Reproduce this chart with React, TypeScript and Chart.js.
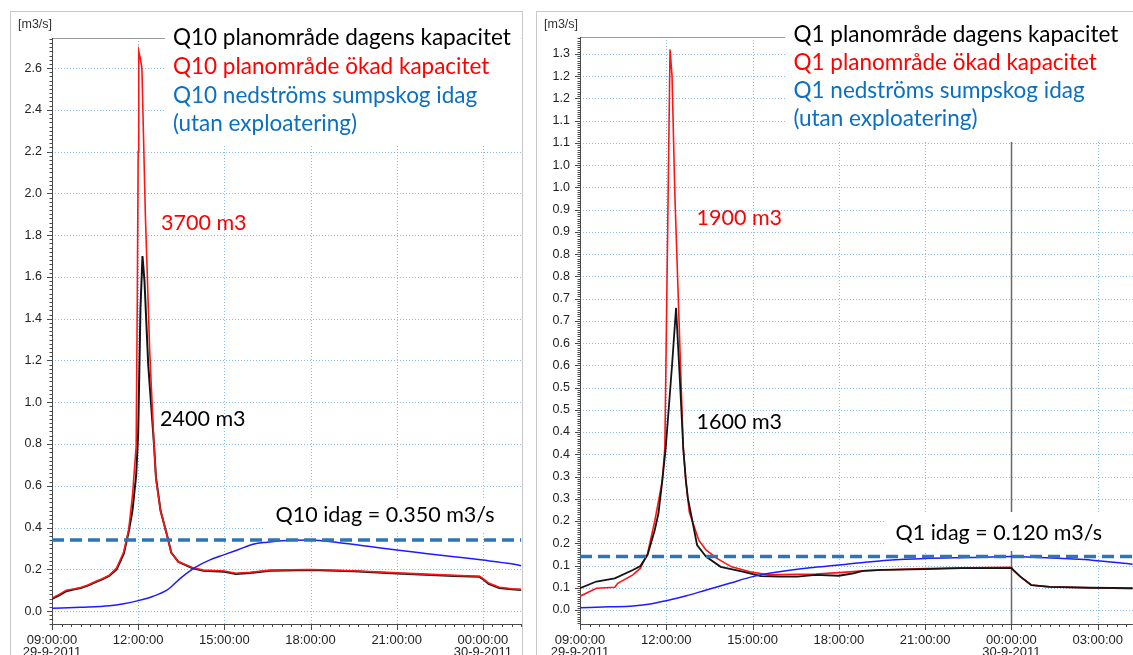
import React, { useEffect, useRef } from "react";
import { Chart, registerables } from "chart.js";

Chart.register(...registerables);

// ---------- Q10 (left panel) ----------
const q10DagensHours = [9.0, 9.25, 9.5, 9.75, 10.0, 10.25, 10.5, 10.75, 11.0, 11.25, 11.5, 11.67, 11.8, 11.93, 12.0, 12.08, 12.15, 12.22, 12.35, 12.55, 12.62, 12.78, 13.03, 13.15, 13.4, 13.9, 14.27, 15.0, 15.4, 15.9, 16.6, 18.0, 19.5, 21.0, 22.0, 23.0, 23.88, 24.05, 24.2, 24.57, 25.0, 25.34];
const q10DagensFlow = [0.058, 0.075, 0.095, 0.103, 0.11, 0.122, 0.138, 0.152, 0.17, 0.2, 0.275, 0.38, 0.48, 0.65, 0.85, 1.45, 1.7, 1.58, 1.18, 0.8, 0.64, 0.48, 0.35, 0.28, 0.235, 0.205, 0.193, 0.188, 0.177, 0.182, 0.193, 0.196, 0.19, 0.18, 0.174, 0.168, 0.164, 0.148, 0.13, 0.11, 0.104, 0.101];

const q10OkadHours = [9.0, 9.25, 9.5, 9.75, 10.0, 10.25, 10.5, 10.75, 11.0, 11.25, 11.5, 11.67, 11.8, 11.93, 11.97, 12.0, 12.02, 12.07, 12.13, 12.25, 12.4, 12.55, 12.62, 12.78, 13.03, 13.15, 13.4, 13.9, 14.27, 15.0, 15.4, 15.9, 16.6, 18.0, 19.5, 21.0, 22.0, 23.0, 23.88, 24.05, 24.2, 24.57, 25.0, 25.34];
const q10OkadFlow = [0.062, 0.08, 0.1, 0.106, 0.113, 0.125, 0.14, 0.155, 0.172, 0.206, 0.284, 0.39, 0.55, 0.79, 1.5, 2.2, 2.68, 2.65, 2.6, 1.9, 1.25, 0.8, 0.63, 0.48, 0.35, 0.28, 0.236, 0.207, 0.196, 0.192, 0.181, 0.186, 0.196, 0.199, 0.193, 0.183, 0.177, 0.171, 0.167, 0.151, 0.134, 0.114, 0.107, 0.104];

const q10SumpskogHours = [9, 10, 11, 11.5, 12, 12.5, 13, 13.5, 14, 14.5, 15, 15.5, 16, 16.5, 17, 18, 19, 20, 21, 22, 23, 24, 25, 25.34];
const q10SumpskogFlow = [0.013, 0.018, 0.025, 0.035, 0.05, 0.07, 0.1, 0.16, 0.21, 0.245, 0.27, 0.295, 0.32, 0.33, 0.337, 0.34, 0.327, 0.31, 0.292, 0.276, 0.26, 0.244, 0.226, 0.217];

const q10Idag = 0.34;
const q10XRange = [9, 25.34];
const q10YRange = [-0.062, 2.744];
const q10XTicks = [9, 12, 15, 18, 21, 24];
const q10YTicks = [0, 0.2, 0.4, 0.6, 0.8, 1.0, 1.2, 1.4, 1.6, 1.8, 2.0, 2.2, 2.4, 2.6];

// ---------- Q1 (right panel) ----------
const q1DagensHours = [9.0, 9.57, 10.21, 10.84, 11.1, 11.35, 11.6, 11.73, 11.86, 11.98, 12.2, 12.34, 12.47, 12.59, 12.68, 12.75, 13.07, 13.38, 13.89, 14.66, 15.29, 15.93, 16.56, 17.2, 18.0, 18.47, 18.84, 19.5, 21.0, 22.28, 24.0, 24.06, 24.31, 24.69, 25.33, 26.73, 28.22];
const q1DagensFlow = [0.049, 0.064, 0.071, 0.09, 0.099, 0.124, 0.18, 0.218, 0.29, 0.364, 0.55, 0.679, 0.52, 0.364, 0.292, 0.252, 0.146, 0.12, 0.097, 0.086, 0.076, 0.075, 0.075, 0.079, 0.077, 0.082, 0.088, 0.09, 0.092, 0.094, 0.094, 0.09, 0.075, 0.056, 0.052, 0.05, 0.049];

const q1OkadHours = [9.0, 9.57, 10.21, 10.31, 10.84, 11.1, 11.35, 11.6, 11.86, 11.95, 12.13, 12.2, 12.3, 12.59, 12.68, 12.8, 13.13, 13.38, 13.76, 14.27, 14.91, 15.55, 16.5, 17.2, 18.0, 18.84, 19.5, 21.0, 22.3, 24.0, 24.06, 24.31, 24.69, 25.33, 26.73, 28.22];
const q1OkadFlow = [0.031, 0.049, 0.051, 0.06, 0.079, 0.094, 0.127, 0.2, 0.29, 0.364, 1.26, 1.2, 0.93, 0.364, 0.29, 0.22, 0.157, 0.135, 0.116, 0.097, 0.086, 0.079, 0.08, 0.081, 0.084, 0.088, 0.09, 0.093, 0.095, 0.096, 0.09, 0.075, 0.056, 0.052, 0.05, 0.048];

const q1SumpskogHours = [9, 10, 10.84, 11.5, 12, 12.7, 13.39, 14.2, 15, 15.93, 17, 18, 19, 19.7, 21, 22.5, 24, 25, 26, 26.8, 28.22];
const q1SumpskogFlow = [0.005, 0.007, 0.009, 0.014, 0.021, 0.032, 0.045, 0.06, 0.075, 0.086, 0.095, 0.101, 0.108, 0.112, 0.116, 0.118, 0.12, 0.118, 0.115, 0.112, 0.103];

const q1Idag = 0.12;
const q1XRange = [9, 28.22];
const q1YRange = [-0.0315, 1.288];
const q1XTicks = [9, 12, 15, 18, 21, 24, 27];
const q1YTicks = [0, 0.05, 0.1, 0.15, 0.2, 0.25, 0.3, 0.35, 0.4, 0.45, 0.5, 0.55, 0.6, 0.65, 0.7, 0.75, 0.8, 0.85, 0.9, 0.95, 1.0, 1.05, 1.1, 1.15, 1.2, 1.25];
const q1MarkerHour = 24;

// ---------- shared tick labels ----------
const xTickHours = [9, 12, 15, 18, 21, 24, 27];
const xTickTimes = ["09:00:00", "12:00:00", "15:00:00", "18:00:00", "21:00:00", "00:00:00", "03:00:00"];
const xTickDates = ["29-9-2011", "", "", "", "", "30-9-2011", ""];

const AXIS_FONT = '"Liberation Sans", Arial, sans-serif';
const TEXT_FONT = 'Lato, "Open Sans", sans-serif';

const BLACK = "#141414";
const RED = "#ff1414";
const BLUE = "#1c1cff";
const DASH = "#2e75b6";
const TXT_BLUE = "#0b6fc2";

type TextItem = { text: string; x: number; y: number; color: string; size: number };
type Box = { x0: number; y0: number; x1: number; y1: number };

type PanelCfg = {
  left: number; top: number; width: number; height: number;
  padTop: number; yAxisWidth: number;
  xRange: number[]; yRange: number[]; xTicks: number[]; yTicks: number[];
  yMinorStep: number; yLabel: (v: number) => string;
  datasets: any[];
  boxes: Box[]; texts: TextItem[]; marker: number | null; markerTop: number;
};

const decorPlugin = {
  id: "decor",
  beforeDatasetsDraw(chart: any, _args: any, opts: any) {
    const { ctx, chartArea: a, scales } = chart;
    const x = scales.x, y = scales.y;
    const line = (x0: number, y0: number, x1: number, y1: number) => {
      ctx.beginPath(); ctx.moveTo(x0, y0); ctx.lineTo(x1, y1); ctx.stroke();
    };
    ctx.save();
    // dotted grid
    ctx.strokeStyle = "#84bdf2";
    ctx.lineWidth = 1;
    ctx.setLineDash([1, 2]);
    for (const v of opts.xTicks) {
      const px = Math.round(x.getPixelForValue(v)) + 0.5;
      if (px > a.left + 2 && px < a.right - 1) line(px, a.top, px, a.bottom);
    }
    for (const v of opts.yTicks) {
      const py = Math.round(y.getPixelForValue(v)) + 0.5;
      line(a.left, py, a.right, py);
    }
    ctx.setLineDash([]);
    // marker line
    if (opts.marker != null) {
      const px = Math.round(x.getPixelForValue(opts.marker)) + 0.5;
      ctx.strokeStyle = "#6a6a6a";
      ctx.lineWidth = 1.5;
      line(px, opts.markerTop, px, a.bottom);
    }
    // borders
    ctx.lineWidth = 1;
    ctx.strokeStyle = "#9a9a9a";
    line(a.left, a.top + 0.5, a.right, a.top + 0.5);
    ctx.strokeStyle = "#4a4a4a";
    line(a.left + 0.5, a.top, a.left + 0.5, a.bottom + 1);
    line(a.left, a.bottom + 0.5, a.right, a.bottom + 0.5);
    // y minor ticks
    const st = opts.yMinorStep;
    for (let i = Math.ceil(y.min / st); i * st <= y.max; i++) {
      const py = Math.round(y.getPixelForValue(i * st)) + 0.5;
      line(a.left - 2.5, py, a.left, py);
    }
    for (const v of opts.yTicks) {
      const py = Math.round(y.getPixelForValue(v)) + 0.5;
      line(a.left - 5, py, a.left, py);
    }
    // x minor ticks (every 20 minutes)
    for (let i = Math.ceil(x.min * 3); i / 3 <= x.max; i++) {
      const px = Math.round(x.getPixelForValue(i / 3)) + 0.5;
      line(px, a.bottom, px, a.bottom + 3);
    }
    for (const v of opts.xTicks) {
      const px = Math.round(x.getPixelForValue(v)) + 0.5;
      line(px, a.bottom, px, a.bottom + 6);
    }
    // unit label
    ctx.fillStyle = "#333";
    ctx.font = `12.5px ${AXIS_FONT}`;
    ctx.textBaseline = "middle";
    ctx.textAlign = "left";
    ctx.fillText("[m3/s]", 7, 12.5);
    ctx.restore();
  },
  afterDatasetsDraw(chart: any, _args: any, opts: any) {
    const { ctx } = chart;
    ctx.save();
    ctx.fillStyle = "#ffffff";
    for (const b of opts.boxes) ctx.fillRect(b.x0, b.y0, b.x1 - b.x0, b.y1 - b.y0);
    ctx.textBaseline = "alphabetic";
    ctx.textAlign = "left";
    for (const t of opts.texts) {
      ctx.fillStyle = t.color;
      ctx.font = `${t.size}px ${TEXT_FONT}`;
      ctx.fillText(t.text, t.x, t.y);
    }
    ctx.restore();
  },
};

function makeLine(hours: number[], flow: number[], color: string, width: number, order: number, tension = 0) {
  return {
    data: hours.map((h, i) => ({ x: h, y: flow[i] })),
    borderColor: color,
    borderWidth: width,
    pointRadius: 0,
    tension,
    cubicInterpolationMode: tension ? "monotone" : "default",
    order,
  };
}

function makeIdag(range: number[], v: number) {
  return {
    data: [{ x: range[0], y: v }, { x: range[1], y: v }],
    borderColor: DASH,
    borderWidth: 3.5,
    borderDash: [12, 6],
    pointRadius: 0,
    order: 0,
  };
}

function xLabel(v: number) {
  const i = xTickHours.indexOf(v);
  if (i < 0) return "";
  return xTickDates[i] ? [xTickTimes[i], xTickDates[i]] : xTickTimes[i];
}

function Panel({ cfg }: { cfg: PanelCfg }) {
  const ref = useRef<HTMLCanvasElement | null>(null);
  useEffect(() => {
    if (!ref.current) return;
    const chart = new Chart(ref.current, {
      type: "line",
      data: { datasets: cfg.datasets },
      plugins: [decorPlugin],
      options: {
        animation: false,
        responsive: false,
        maintainAspectRatio: false,
        devicePixelRatio: 1,
        layout: { padding: { top: cfg.padTop, left: 0, right: 0, bottom: 0 } },
        plugins: {
          legend: { display: false },
          tooltip: { enabled: false },
          decor: {
            xTicks: cfg.xTicks, yTicks: cfg.yTicks, yMinorStep: cfg.yMinorStep,
            boxes: cfg.boxes, texts: cfg.texts, marker: cfg.marker, markerTop: cfg.markerTop,
          },
        } as any,
        scales: {
          x: {
            type: "linear",
            min: cfg.xRange[0],
            max: cfg.xRange[1],
            afterBuildTicks: (s: any) => { s.ticks = cfg.xTicks.map((v) => ({ value: v })); },
            afterFit: (s: any) => { s.height = 31; },
            grid: { display: false, drawTicks: false },
            border: { display: false },
            ticks: {
              padding: 10,
              maxRotation: 0, minRotation: 0, autoSkip: false,
              color: "#222",
              font: { family: AXIS_FONT, size: 13, lineHeight: 0.95 },
              callback: (v: any) => xLabel(Number(v)),
            },
          },
          y: {
            type: "linear",
            min: cfg.yRange[0],
            max: cfg.yRange[1],
            afterBuildTicks: (s: any) => { s.ticks = cfg.yTicks.map((v) => ({ value: v })); },
            afterFit: (s: any) => { s.width = cfg.yAxisWidth; },
            grid: { display: false, drawTicks: false },
            border: { display: false },
            ticks: {
              padding: 10,
              color: "#222",
              font: { family: AXIS_FONT, size: 12.5 },
              callback: (v: any) => cfg.yLabel(Number(v)),
            },
          },
        },
      } as any,
    });
    return () => chart.destroy();
  }, [cfg]);
  return (
    <canvas
      ref={ref}
      width={cfg.width}
      height={cfg.height}
      style={{ position: "absolute", left: cfg.left, top: cfg.top, width: cfg.width, height: cfg.height }}
    />
  );
}

const LEGEND_SIZE = 22.5;
const NOTE_SIZE = 21.5;

const leftCfg: PanelCfg = {
  left: 11, top: 12, width: 511, height: 643,
  padTop: 26, yAxisWidth: 41,
  xRange: q10XRange, yRange: q10YRange, xTicks: q10XTicks, yTicks: q10YTicks,
  yMinorStep: 0.02,
  yLabel: (v) => v.toFixed(1),
  datasets: [
    makeIdag(q10XRange, q10Idag),
    makeLine(q10SumpskogHours, q10SumpskogFlow, BLUE, 1.5, 1, 0.4),
    makeLine(q10OkadHours, q10OkadFlow, RED, 1.6, 2),
    makeLine(q10DagensHours, q10DagensFlow, BLACK, 2, 3),
  ],
  boxes: [
    { x0: 154, y0: 0, x1: 510, y1: 133 },
    { x0: 253, y0: 486, x1: 510, y1: 520 },
  ],
  texts: [
    { text: "Q10 planområde dagens kapacitet", x: 162, y: 33, color: "#000", size: LEGEND_SIZE },
    { text: "Q10 planområde ökad kapacitet", x: 162, y: 62, color: "#ff0000", size: LEGEND_SIZE },
    { text: "Q10 nedströms sumpskog idag", x: 162, y: 90.5, color: TXT_BLUE, size: LEGEND_SIZE },
    { text: "(utan exploatering)", x: 162, y: 119, color: TXT_BLUE, size: LEGEND_SIZE },
    { text: "3700 m3", x: 150, y: 218, color: "#ff0000", size: NOTE_SIZE },
    { text: "2400 m3", x: 149, y: 414, color: "#000", size: NOTE_SIZE },
    { text: "Q10 idag = 0.350 m3/s", x: 264.5, y: 510, color: "#000", size: NOTE_SIZE },
  ],
  marker: null, markerTop: 0,
};

const rightCfg: PanelCfg = {
  left: 537, top: 12, width: 596, height: 643,
  padTop: 25, yAxisWidth: 43,
  xRange: q1XRange, yRange: q1YRange, xTicks: q1XTicks, yTicks: q1YTicks,
  yMinorStep: 0.005,
  yLabel: (v) => (Math.round(v * 10 + 1e-6) / 10).toFixed(1),
  datasets: [
    makeIdag(q1XRange, q1Idag),
    makeLine(q1SumpskogHours, q1SumpskogFlow, BLUE, 1.5, 1, 0.4),
    makeLine(q1DagensHours, q1DagensFlow, BLACK, 1.8, 2),
    makeLine(q1OkadHours, q1OkadFlow, RED, 1.6, 3),
  ],
  boxes: [
    { x0: 248, y0: 0, x1: 596, y1: 130 },
    { x0: 348, y0: 500, x1: 596, y1: 539 },
  ],
  texts: [
    { text: "Q1 planområde dagens kapacitet", x: 256.5, y: 29.7, color: "#000", size: LEGEND_SIZE },
    { text: "Q1 planområde ökad kapacitet", x: 256.5, y: 58, color: "#ff0000", size: LEGEND_SIZE },
    { text: "Q1 nedströms sumpskog idag", x: 256.5, y: 85.5, color: TXT_BLUE, size: LEGEND_SIZE },
    { text: "(utan exploatering)", x: 256.5, y: 114, color: TXT_BLUE, size: LEGEND_SIZE },
    { text: "1900 m3", x: 159.5, y: 213, color: "#ff0000", size: NOTE_SIZE },
    { text: "1600 m3", x: 159.5, y: 417, color: "#000", size: NOTE_SIZE },
    { text: "Q1 idag = 0.120 m3/s", x: 358.5, y: 528, color: "#000", size: NOTE_SIZE },
  ],
  marker: q1MarkerHour, markerTop: 129,
};

export default function App() {
  return (
    <div style={{ position: "absolute", left: 0, top: 0, width: 1133, height: 655, overflow: "hidden", background: "#fff" }}>
      <div style={{ position: "absolute", left: 10, top: 11, width: 513, height: 700, border: "1px solid #c9c9c9", boxSizing: "border-box" }} />
      <div style={{ position: "absolute", left: 536, top: 11, width: 700, height: 700, border: "1px solid #c9c9c9", boxSizing: "border-box" }} />
      <Panel cfg={leftCfg} />
      <Panel cfg={rightCfg} />
    </div>
  );
}
